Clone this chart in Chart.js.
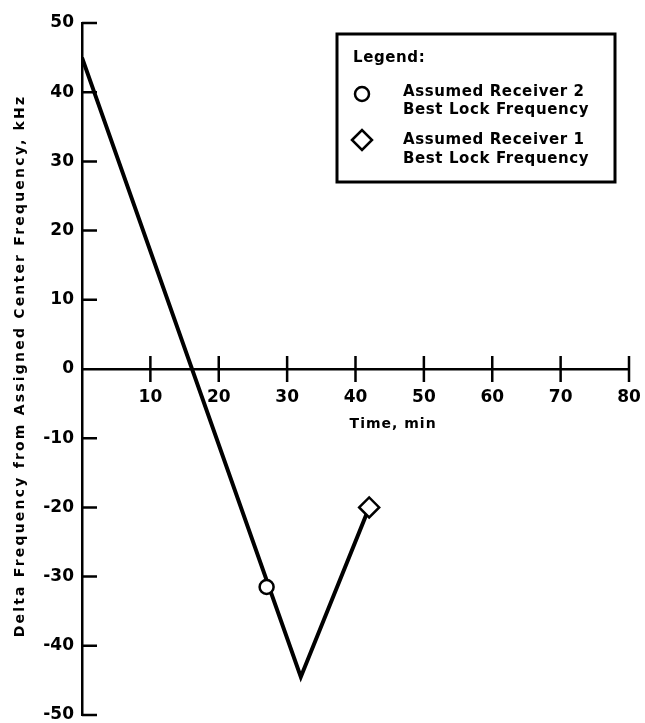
<!DOCTYPE html>
<html>
<head>
<meta charset="utf-8">
<script src="https://cdn.jsdelivr.net/npm/chart.js@4.4.1/dist/chart.umd.min.js"></script>
<style>
  html, body { margin: 0; padding: 0; background: #fff; }
  #wrap { width: 645px; height: 723px; position: relative; }
</style>
</head>
<body>
<div id="wrap"><canvas id="freqChart"></canvas></div>
<script>
// frequency track (time in min, delta freq in kHz)
const trackTimes = [0, 32, 42];
const trackFreqs = [45, -44.5, -20];

// best lock points
const rx2Times = [27];
const rx2Freqs = [-31.5];
const rx1Times = [42];
const rx1Freqs = [-20];

const xTickValues = [10, 20, 30, 40, 50, 60, 70, 80];
const yTickValues = [50, 40, 30, 20, 10, 0, -10, -20, -30, -40, -50];

const xTitle = "Time, min";
const yTitle = "Delta Frequency from Assigned Center Frequency, kHz";
const legendTitle = "Legend:";
const rx2Label = ["Assumed Receiver 2", "Best Lock Frequency"];
const rx1Label = ["Assumed Receiver 1", "Best Lock Frequency"];

const FONT = "'DejaVu Sans', 'Liberation Sans', sans-serif";

function toPoints(xs, ys) {
    return xs.map((x, i) => ({ x: x, y: ys[i] }));
}

// tick marks: y ticks point inwards, x ticks cross the zero line
const tickMarks = {
    id: "tickMarks",
    beforeDraw(chart) {
        chart.ctx.letterSpacing = "0px";
    },
    afterDraw(chart) {
        const ctx = chart.ctx;
        const xs = chart.scales.x;
        const ys = chart.scales.y;
        const x0 = xs.getPixelForValue(0);
        const y0 = ys.getPixelForValue(0);
        ctx.save();
        ctx.strokeStyle = "#000";
        ctx.lineWidth = 2.5;
        ctx.beginPath();
        yTickValues.forEach(v => {
            if (v === 0) return;
            const py = ys.getPixelForValue(v);
            ctx.moveTo(x0, py);
            ctx.lineTo(x0 + 15, py);
        });
        xTickValues.forEach(v => {
            const px = xs.getPixelForValue(v);
            ctx.moveTo(px, y0 - 13);
            ctx.lineTo(px, y0 + 13);
        });
        ctx.stroke();

        ctx.fillStyle = "#000";
        ctx.textBaseline = "middle";
        ctx.textAlign = "center";

        // x axis title, under the tick labels
        ctx.font = "bold 14px " + FONT;
        ctx.letterSpacing = "1px";
        ctx.fillText(xTitle, xs.getPixelForValue(45.5), y0 + 55);

        // y axis title, rotated
        ctx.save();
        ctx.translate(20, (ys.top + ys.bottom) / 2 - 3);
        ctx.rotate(-Math.PI / 2);
        ctx.font = "bold 14px " + FONT;
        ctx.letterSpacing = "2.2px";
        ctx.fillText(yTitle, 0, 0);
        ctx.restore();
        ctx.letterSpacing = "0px";
        ctx.restore();
    }
};

// boxed legend in the top right
const boxLegend = {
    id: "boxLegend",
    afterDraw(chart) {
        const ctx = chart.ctx;
        const left = 337, top = 34, w = 278, h = 148;
        ctx.save();
        ctx.fillStyle = "#fff";
        ctx.fillRect(left, top, w, h);
        ctx.strokeStyle = "#000";
        ctx.lineWidth = 3;
        ctx.strokeRect(left, top, w, h);

        ctx.fillStyle = "#000";
        ctx.textAlign = "left";
        ctx.textBaseline = "middle";
        ctx.font = "bold 15px " + FONT;
        ctx.letterSpacing = "0.6px";
        ctx.fillText(legendTitle, left + 16, top + 24);

        rx2Label.forEach((t, i) => ctx.fillText(t, left + 66, top + 58 + i * 18));
        rx1Label.forEach((t, i) => ctx.fillText(t, left + 66, top + 106 + i * 19));
        ctx.letterSpacing = "0px";

        ctx.fillStyle = "#fff";
        ctx.lineWidth = 2.5;
        Chart.helpers.drawPoint(ctx, { pointStyle: "circle", radius: 7, rotation: 0, borderWidth: 2.5 }, left + 25, top + 60);
        Chart.helpers.drawPoint(ctx, { pointStyle: "rectRot", radius: 10, rotation: 0, borderWidth: 2.5 }, left + 25, top + 106);
        ctx.restore();
    }
};

const ctx = document.getElementById("freqChart").getContext("2d");
const chart = new Chart(ctx, {
    type: "scatter",
    data: {
        datasets: [
            {
                label: "Track",
                data: toPoints(trackTimes, trackFreqs),
                showLine: true,
                borderColor: "#000",
                borderWidth: 4,
                pointRadius: 0,
                order: 2
            },
            {
                label: rx2Label.join(" "),
                data: toPoints(rx2Times, rx2Freqs),
                pointStyle: "circle",
                pointRadius: 7,
                borderColor: "#000",
                backgroundColor: "#fff",
                borderWidth: 2.5,
                order: 1
            },
            {
                label: rx1Label.join(" "),
                data: toPoints(rx1Times, rx1Freqs),
                pointStyle: "rectRot",
                pointRadius: 10,
                borderColor: "#000",
                backgroundColor: "#fff",
                borderWidth: 2.5,
                order: 1
            }
        ]
    },
    options: {
        responsive: true,
        maintainAspectRatio: false,
        animation: false,
        layout: {
            autoPadding: false,
            padding: { top: 23, right: 16, bottom: 8, left: 0 }
        },
        plugins: {
            legend: { display: false },
            tooltip: { enabled: false }
        },
        scales: {
            x: {
                type: "linear",
                position: { y: 0 },
                min: 0,
                max: 80,
                afterBuildTicks: (s) => { s.ticks = xTickValues.map(v => ({ value: v })); },
                afterFit: (s) => { s.paddingLeft = 0; s.paddingRight = 0; },
                grid: { display: false },
                border: { display: true, color: "#000", width: 2.5 },
                ticks: {
                    color: "#000",
                    padding: 10,
                    font: { family: FONT, size: 17, weight: "bold" }
                }
            },
            y: {
                type: "linear",
                min: -50,
                max: 50,
                afterBuildTicks: (s) => { s.ticks = yTickValues.map(v => ({ value: v })); },
                afterFit: (s) => { s.width = 82; s.paddingTop = 0; s.paddingBottom = 0; },
                grid: { display: false },
                border: { display: true, color: "#000", width: 2.5 },
                ticks: {
                    color: "#000",
                    padding: 0,
                    font: { family: FONT, size: 17, weight: "bold", lineHeight: 0.8 }
                }
            }
        }
    },
    plugins: [tickMarks, boxLegend]
});
</script>
</body>
</html>
